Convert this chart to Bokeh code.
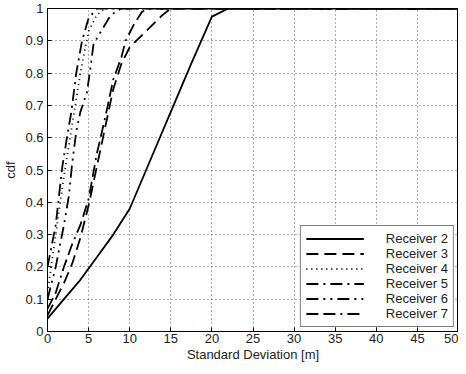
from bokeh.plotting import figure
from bokeh.models import Legend, LegendItem, FixedTicker, Range1d
from bokeh.embed import file_html
from bokeh.resources import INLINE

# ---- data ----
r2_x = [0, 2, 4, 6, 8, 10, 12, 15, 17.5, 20, 22, 50]
r2_y = [0.04, 0.1, 0.16, 0.23, 0.30, 0.38, 0.50, 0.68, 0.83, 0.975, 1.0, 1.0]

r3_x = [0, 1, 2, 3, 4, 5, 6, 7, 8, 9, 10, 12, 14, 15, 50]
r3_y = [0.05, 0.10, 0.15, 0.21, 0.29, 0.39, 0.51, 0.63, 0.75, 0.83, 0.88, 0.93, 0.98, 1.0, 1.0]

r4_x = [0, 1, 2, 3, 4, 5, 6, 7, 50]
r4_y = [0.12, 0.30, 0.48, 0.64, 0.80, 0.93, 0.98, 1.0, 1.0]

r5_x = [0, 1, 1.4, 1.8, 2.3, 2.9, 3.5, 4.2, 5, 6, 50]
r5_y = [0.20, 0.33, 0.42, 0.51, 0.59, 0.68, 0.80, 0.90, 0.97, 1.0, 1.0]

r6_x = [0, 1, 2, 2.6, 3, 3.5, 4, 4.8, 5.3, 5.6, 6.3, 7.7, 9, 50]
r6_y = [0.10, 0.20, 0.33, 0.42, 0.52, 0.62, 0.68, 0.74, 0.83, 0.89, 0.92, 0.98, 1.0, 1.0]

r7_x = [0, 1, 2, 3, 4, 5, 6, 7, 8, 9, 9.5, 10.5, 11.5, 12.5, 50]
r7_y = [0.07, 0.12, 0.20, 0.27, 0.33, 0.41, 0.55, 0.66, 0.78, 0.85, 0.90, 0.95, 0.99, 1.0, 1.0]

labels = ["Receiver 2", "Receiver 3", "Receiver 4", "Receiver 5", "Receiver 6", "Receiver 7"]
x_ticks = [0, 5, 10, 15, 20, 25, 30, 35, 40, 45, 50]
y_ticks = [0, 0.1, 0.2, 0.3, 0.4, 0.5, 0.6, 0.7, 0.8, 0.9, 1]
y_tick_labels = ["0", "0.1", "0.2", "0.3", "0.4", "0.5", "0.6", "0.7", "0.8", "0.9", "1"]

FONT = "Liberation Sans"

p = figure(width=458, height=364, output_backend="svg", toolbar_location=None,
           x_range=Range1d(0, 50), y_range=Range1d(0, 1),
           min_border_left=39, min_border_right=0, min_border_top=8, min_border_bottom=0)
p.outline_line_color = "black"
p.outline_line_width = 1
p.background_fill_color = "white"

for ax in (p.xaxis[0], p.yaxis[0]):
    ax.major_tick_in = 4
    ax.major_tick_out = 0
    ax.minor_tick_in = 0
    ax.minor_tick_out = 0
    ax.axis_line_color = "black"
    ax.major_tick_line_color = "black"
    ax.major_label_text_font = FONT
    ax.major_label_text_font_size = "13px"
    ax.major_label_text_color = "#222222"
    ax.axis_label_text_font = FONT
    ax.axis_label_text_font_size = "13px"
    ax.axis_label_text_font_style = "normal"
    ax.axis_label_text_color = "#222222"

p.xaxis.ticker = FixedTicker(ticks=x_ticks)
p.yaxis.ticker = FixedTicker(ticks=y_ticks)
p.yaxis.major_label_overrides = {t: s for t, s in zip(y_ticks, y_tick_labels)}
p.xaxis.major_label_overrides = {t: str(t) for t in x_ticks}
p.xaxis.axis_label = "Standard Deviation [m]"
p.yaxis.axis_label = "cdf"
p.xaxis.major_label_standoff = 2
p.xaxis.axis_label_standoff = 1
p.yaxis.major_label_standoff = 4
p.yaxis.axis_label_standoff = 4

for g in (p.xgrid[0], p.ygrid[0]):
    g.grid_line_color = "#333333"
    g.grid_line_dash = "1 3"
    g.grid_line_width = 1
    g.grid_line_alpha = 0.8

series = [(r2_x, r2_y, "solid"), (r3_x, r3_y, "12 6"), (r4_x, r4_y, "1 4"),
          (r5_x, r5_y, "12 5 2 5"), (r6_x, r6_y, "12 5 2 5 2 5"),
          (r7_x, r7_y, "12 5 12 5 2 5")]

items = []
for (xs, ys, dash), lab in zip(series, labels):
    r = p.line(xs, ys, line_color="black", line_width=1.8, line_dash=dash)
    items.append(LegendItem(label=lab, renderers=[r]))

legend = Legend(items=items, location="bottom_right")
legend.label_text_font = FONT
legend.label_text_font_size = "13px"
legend.label_text_color = "#222222"
legend.border_line_color = "black"
legend.border_line_width = 1
legend.glyph_width = 58
legend.glyph_height = 15
legend.label_height = 15
legend.spacing = 0
legend.padding = 5
legend.margin = 4
legend.label_standoff = 22
legend.background_fill_alpha = 1
p.add_layout(legend)

open("out.html", "w").write(file_html(p, INLINE))
